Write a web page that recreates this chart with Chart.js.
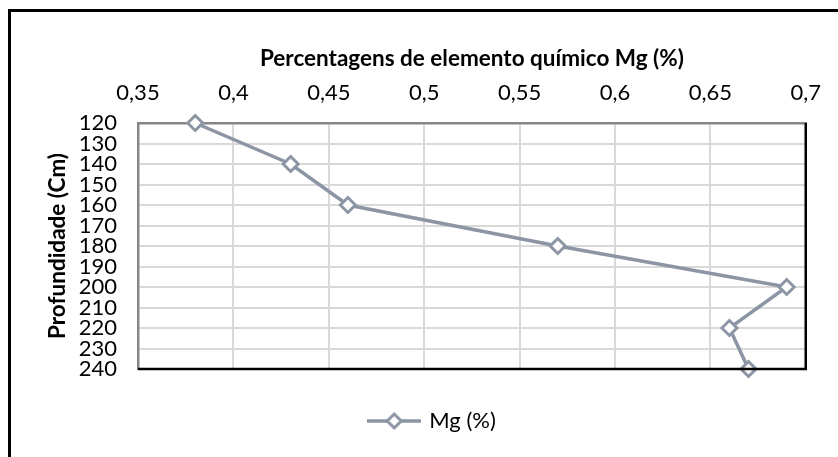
<!DOCTYPE html>
<html>
<head>
<meta charset="utf-8">
<script src="https://cdn.jsdelivr.net/npm/chart.js@4.4.1/dist/chart.umd.min.js"></script>
<style>
  html, body { margin: 0; padding: 0; background: #fff; overflow: hidden; }
  #frame {
    position: absolute; left: 8px; top: 9px; width: 900px; height: 600px;
    border-left: 3px solid #000; border-top: 3px solid #000;
  }
  #wrap { position: absolute; left: 0; top: 0; width: 838px; height: 457px; }
</style>
</head>
<body>
<div id="frame"></div>
<div id="wrap"><canvas id="mgChart" width="838" height="457"></canvas></div>
<script>
// profundidade (cm) e teor de Mg (%)
const depths = [120, 140, 160, 180, 200, 220, 240]
const mgValues = [0.38, 0.43, 0.46, 0.57, 0.69, 0.66, 0.67]
const seriesLabel = 'Mg (%)'
const xTitle = 'Percentagens de elemento químico Mg (%)'
const yTitle = 'Profundidade (Cm)'

const lineColor = '#8b95a4'
const fontFamily = 'Lato, "Open Sans", sans-serif'

// legend icon: line with a diamond in the middle
function legendIcon() {
  const c = document.createElement('canvas')
  c.width = 54
  c.height = 20
  const g = c.getContext('2d')
  g.strokeStyle = lineColor
  g.lineWidth = 3.5
  g.beginPath()
  g.moveTo(0, 10)
  g.lineTo(54, 10)
  g.stroke()
  g.fillStyle = '#fff'
  g.lineWidth = 3
  g.beginPath()
  g.moveTo(27, 3)
  g.lineTo(34, 10)
  g.lineTo(27, 17)
  g.lineTo(20, 10)
  g.closePath()
  g.fill()
  g.stroke()
  return c
}

const plotFrame = {
  id: 'plotFrame',
  afterLayout(chart) {
    chart.legend.left += 60
  },
  afterDatasetsDraw(chart) {
    const { ctx, chartArea: a } = chart
    ctx.save()
    ctx.strokeStyle = '#000'
    ctx.lineWidth = 2.5
    ctx.beginPath()
    ctx.moveTo(a.left, a.bottom)
    ctx.lineTo(a.right, a.bottom)
    ctx.lineTo(a.right, a.top)
    ctx.stroke()
    ctx.restore()
  }
}

const ctx = document.getElementById('mgChart').getContext('2d')
const icon = legendIcon()

new Chart(ctx, {
  type: 'line',
  data: {
    datasets: [{
      label: seriesLabel,
      data: mgValues.map((v, i) => ({ x: v, y: depths[i] })),
      borderColor: lineColor,
      borderWidth: 3.5,
      pointStyle: 'rectRot',
      pointRadius: 7.5,
      pointBorderWidth: 3,
      pointBackgroundColor: '#fff',
      pointBorderColor: lineColor,
      tension: 0,
      clip: false
    }]
  },
  plugins: [plotFrame],
  options: {
    responsive: false,
    animation: false,
    layout: { padding: { left: 0, right: 32, top: 0, bottom: 15 } },
    plugins: {
      legend: {
        position: 'bottom',
        labels: {
          usePointStyle: true,
          pointStyleWidth: 48,
          padding: 41,
          color: '#000',
          font: { family: fontFamily, size: 22 },
          generateLabels: (chart) => [{
            text: seriesLabel,
            pointStyle: icon,
            fillStyle: '#fff',
            strokeStyle: lineColor,
            lineWidth: 0,
            datasetIndex: 0
          }]
        }
      },
      tooltip: { enabled: false }
    },
    scales: {
      x: {
        type: 'linear',
        position: 'top',
        min: 0.35,
        max: 0.7,
        afterFit: (s) => { s.height = 123 },
        ticks: {
          stepSize: 0.05,
          padding: 17,
          color: '#000',
          font: { family: fontFamily, size: 22 },
          callback: (v) => Number(v.toFixed(2)).toString().replace('.', ',')
        },
        grid: { color: '#d9d9d9', lineWidth: 2, drawTicks: false },
        border: { color: '#868686', width: 2.5 },
        title: {
          display: true,
          text: xTitle,
          color: '#000',
          padding: { top: 45, bottom: 0 },
          font: { family: fontFamily, size: 22.5, weight: 'bold' }
        }
      },
      y: {
        type: 'linear',
        reverse: true,
        min: 120,
        max: 240,
        afterFit: (s) => { s.width = 138 },
        ticks: {
          stepSize: 10,
          autoSkip: false,
          padding: 21,
          color: '#000',
          font: { family: fontFamily, size: 22 }
        },
        grid: { color: '#d9d9d9', lineWidth: 2, drawTicks: false },
        border: { color: '#868686', width: 2.5 },
        title: {
          display: true,
          text: yTitle,
          color: '#000',
          padding: { top: 44, bottom: 0 },
          font: { family: fontFamily, size: 22.5, weight: 'bold' }
        }
      }
    }
  }
})
</script>
</body>
</html>
